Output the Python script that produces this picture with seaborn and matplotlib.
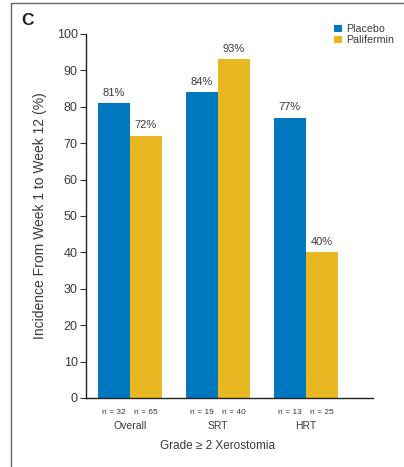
import matplotlib
matplotlib.use("Agg")
import matplotlib.pyplot as plt
from matplotlib.lines import Line2D
from matplotlib.patches import Patch
import matplotlib.transforms as mtransforms
import seaborn as sns
import pandas as pd

# Data
groups = ["Overall", "SRT", "HRT"]
arms = ["Placebo", "Palifermin"]
placebo_pct = [81, 84, 77]
palifermin_pct = [72, 93, 40]
placebo_n = [32, 19, 13]
palifermin_n = [65, 40, 25]
colors = ["#0078BF", "#E8B822"]
text_color = "#3a3a3a"

df = pd.DataFrame({
    "group": groups * 2,
    "arm": [arms[0]] * 3 + [arms[1]] * 3,
    "pct": placebo_pct + palifermin_pct,
})

sns.set_theme(style="white")
plt.rcParams["font.family"] = ["Liberation Sans", "DejaVu Sans"]

fig = plt.figure(figsize=(4.04, 4.67), dpi=100)
ax = fig.add_axes([0.2129, 0.1478, 0.7104, 0.7794])

bar_w = 0.727
sns.barplot(data=df, x="group", y="pct", hue="arm", order=groups, hue_order=arms,
            palette=colors, width=bar_w, gap=0, saturation=1, linewidth=0,
            errorbar=None, legend=False, ax=ax)

for cont in ax.containers:
    ax.bar_label(cont, fmt="%.0f%%", padding=4, fontsize=8, color=text_color)

ax.set_xlim(-0.5, 2.767)
ax.set_ylim(0, 100)
ax.set_yticks(range(0, 101, 10))
ax.tick_params(axis="y", left=True, length=4, width=0.8, color="#333333",
               labelsize=9, labelcolor=text_color, pad=2)
ax.tick_params(axis="x", bottom=False, labelbottom=False)
for side in ["top", "right"]:
    ax.spines[side].set_visible(False)
for side in ["left", "bottom"]:
    ax.spines[side].set_color("#222222")
    ax.spines[side].set_linewidth(1.0)

ax.set_xlabel("")
ax.set_ylabel("Incidence From Week 1 to Week 12 (%)", fontsize=10,
              color=text_color)
ax.yaxis.set_label_coords(-0.135, 0.5)

# Sample sizes under each bar, group names under each pair
xform = ax.get_xaxis_transform()
off = bar_w / 4
for i, g in enumerate(groups):
    ax.text(i - off, -0.040, f"n = {placebo_n[i]}", transform=xform, ha="center",
            va="center", fontsize=6, color=text_color, fontstretch="condensed")
    ax.text(i + off, -0.040, f"n = {palifermin_n[i]}", transform=xform, ha="center",
            va="center", fontsize=6, color=text_color, fontstretch="condensed")
    ax.text(i, -0.076, g, transform=xform, ha="center", va="center",
            fontsize=7.5, color=text_color)

ax.text(1, -0.133, "Grade \u2265 2 Xerostomia", transform=xform,
        ha="center", va="center", fontsize=8.5, color=text_color)

# Legend
handles = [Patch(facecolor=c, edgecolor="none") for c in colors]
fig.legend(handles, arms, loc="upper left", bbox_to_anchor=(0.827, 0.948),
           frameon=False, fontsize=7.7, handlelength=0.7, handleheight=0.7,
           handletextpad=0.4, labelspacing=0.1, borderaxespad=0, borderpad=0,
           labelcolor=text_color)

# Panel letter and outer frame
fig.text(0.052, 0.957, "C", fontsize=12.5, fontweight="bold", color="#222222",
         ha="left", va="center")
fig.add_artist(Line2D([11 / 404, 11 / 404], [0, 1 - 3 / 467],
                      transform=fig.transFigure, color="#666666", lw=1.0))
fig.add_artist(Line2D([11 / 404, 1], [1 - 3 / 467, 1 - 3 / 467],
                      transform=fig.transFigure, color="#666666", lw=1.0))

fig.savefig("out.png", dpi=100)
